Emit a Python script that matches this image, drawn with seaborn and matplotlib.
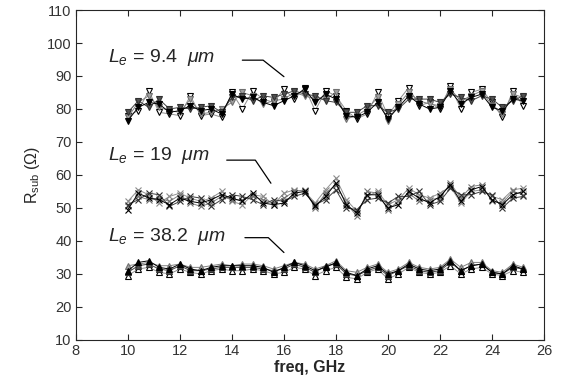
import numpy as np
import pandas as pd
import seaborn as sns
import matplotlib
matplotlib.use("Agg")
import matplotlib.pyplot as plt

# frequency points, GHz
freq = [10.0, 10.4, 10.8, 11.2, 11.6, 12.0, 12.4, 12.8, 13.2, 13.6,
        14.0, 14.4, 14.8, 15.2, 15.6, 16.0, 16.4, 16.8, 17.2, 17.6,
        18.0, 18.4, 18.8, 19.2, 19.6, 20.0, 20.4, 20.8, 21.2, 21.6,
        22.0, 22.4, 22.8, 23.2, 23.6, 24.0, 24.4, 24.8, 25.2]

# Le = 9.4 um
r94_black = [76.5, 80.5, 82.0, 81.5, 79.0, 79.5, 81.0, 79.5, 80.0, 78.5,
             84.5, 83.0, 83.5, 82.0, 81.0, 82.5, 84.0, 86.0, 82.0, 84.5,
             83.0, 78.0, 77.5, 79.0, 82.0, 77.0, 80.5, 84.0, 81.5, 80.0,
             80.5, 85.5, 81.5, 83.5, 84.5, 80.5, 79.5, 83.0, 82.5]
r94_dark = [79.0, 82.5, 80.5, 83.0, 80.0, 80.5, 80.0, 80.5, 81.0, 79.0,
            83.5, 84.0, 82.5, 84.0, 83.5, 84.5, 85.5, 84.5, 84.0, 82.5,
            82.0, 79.0, 79.0, 81.0, 81.0, 79.0, 80.0, 83.0, 83.0, 83.0,
            82.0, 84.5, 83.5, 82.5, 84.0, 83.0, 80.5, 82.5, 84.0]
r94_gray = [77.5, 82.0, 84.0, 80.5, 79.5, 79.0, 83.0, 78.5, 79.0, 80.0,
            82.0, 85.0, 84.0, 81.5, 82.5, 83.0, 85.0, 84.0, 83.0, 83.0,
            85.0, 77.0, 78.0, 80.0, 83.5, 76.5, 81.5, 85.0, 82.5, 81.5,
            81.0, 86.0, 82.5, 84.0, 85.5, 81.0, 78.5, 84.5, 83.5]
r94_white = [78.0, 79.5, 85.5, 79.0, 78.5, 78.0, 84.0, 78.0, 78.5, 77.5,
             85.0, 80.0, 85.5, 83.0, 82.0, 86.0, 83.0, 86.5, 79.5, 85.5,
             84.0, 79.5, 77.0, 78.5, 85.0, 78.0, 82.5, 86.5, 81.0, 82.0,
             80.0, 87.0, 80.0, 85.0, 86.0, 82.0, 77.5, 85.5, 81.0]

# Le = 19 um
r19_black = [49.5, 54.5, 53.0, 52.5, 51.0, 53.0, 52.0, 51.5, 52.5, 54.0,
             53.0, 52.0, 54.5, 51.5, 51.0, 51.5, 54.5, 55.0, 50.5, 53.5,
             57.5, 51.0, 48.5, 54.0, 54.0, 50.0, 51.0, 55.0, 53.0, 51.5,
             53.5, 57.0, 52.0, 55.5, 56.5, 52.5, 51.0, 54.0, 55.0]
r19_dark = [51.0, 52.5, 54.5, 54.0, 50.5, 52.0, 53.5, 53.0, 50.5, 52.5,
            54.0, 53.5, 52.5, 51.0, 52.5, 52.0, 53.5, 54.5, 51.0, 52.5,
            55.5, 50.0, 49.5, 52.5, 53.0, 51.5, 53.5, 53.5, 55.0, 51.0,
            52.0, 56.0, 54.0, 54.0, 55.0, 54.0, 50.0, 53.0, 53.5]
r19_gray = [50.5, 53.5, 52.5, 53.0, 52.0, 54.0, 51.5, 50.5, 51.5, 53.5,
            52.5, 52.5, 53.5, 52.5, 51.5, 53.0, 55.0, 55.5, 50.0, 54.5,
            57.0, 51.5, 47.5, 55.0, 54.5, 49.5, 52.0, 54.5, 52.0, 52.5,
            53.0, 57.5, 53.0, 56.5, 57.0, 52.0, 51.5, 55.0, 54.0]
r19_white = [52.0, 55.5, 54.0, 51.5, 53.5, 54.5, 53.0, 52.0, 53.0, 55.0,
             52.0, 51.0, 54.0, 53.5, 51.0, 54.5, 55.5, 55.0, 51.5, 55.5,
             59.0, 52.5, 49.0, 53.5, 55.0, 51.0, 52.5, 56.0, 54.0, 53.0,
             54.5, 56.5, 51.5, 55.0, 55.5, 53.5, 52.5, 55.5, 56.0]

# Le = 38.2 um
r38_black = [31.0, 33.5, 34.0, 32.0, 31.5, 33.0, 31.5, 31.0, 32.0, 32.5,
             32.5, 32.5, 32.5, 32.0, 30.5, 32.0, 33.5, 32.5, 31.0, 32.0,
             33.5, 30.5, 29.5, 31.5, 32.5, 30.0, 31.0, 33.0, 31.5, 31.0,
             31.5, 34.0, 31.0, 32.5, 33.0, 30.5, 30.0, 32.5, 31.5]
r38_dark = [30.5, 32.5, 33.0, 31.5, 31.0, 32.5, 31.0, 31.0, 31.5, 32.0,
            32.0, 32.0, 32.0, 31.5, 31.0, 31.5, 33.0, 32.0, 30.5, 32.5,
            33.0, 30.0, 29.5, 31.0, 32.0, 29.5, 31.0, 32.5, 31.0, 30.5,
            31.0, 33.5, 31.0, 32.5, 33.0, 30.5, 30.0, 32.0, 31.5]
r38_gray = [32.5, 33.0, 33.5, 32.5, 32.5, 33.0, 32.0, 32.0, 32.5, 33.0,
            32.5, 33.0, 33.0, 32.5, 31.5, 32.5, 33.5, 33.0, 31.5, 32.5,
            34.0, 31.0, 30.5, 32.0, 33.0, 30.5, 31.5, 33.5, 32.0, 31.5,
            32.0, 34.5, 32.0, 33.5, 33.5, 31.0, 30.5, 33.0, 32.0]
r38_white = [29.5, 31.5, 32.0, 30.5, 30.0, 31.5, 30.5, 30.0, 31.0, 31.5,
             31.0, 31.0, 31.5, 31.0, 30.0, 30.5, 32.0, 31.5, 29.5, 31.0,
             32.0, 29.0, 28.5, 30.5, 31.5, 28.5, 30.0, 32.0, 30.5, 30.0,
             30.5, 32.5, 30.0, 31.5, 32.0, 30.0, 29.5, 31.0, 30.5]

groups = ["9.4", "19", "38.2"]
markers = {"9.4": "v", "19": "x", "38.2": "^"}
series = {
    "9.4": [r94_black, r94_dark, r94_gray, r94_white],
    "19": [r19_black, r19_dark, r19_gray, r19_white],
    "38.2": [r38_black, r38_dark, r38_gray, r38_white],
}
# (line color, marker edge, marker face) for the traces of each group
styles = [("black", "black", "black"),
          ("#404040", "#303030", "#505050"),
          ("#808080", "#707070", "#a0a0a0"),
          ("#909090", "black", "white")]

rows = []
for g in groups:
    for k, vals in enumerate(series[g]):
        for f, v in zip(freq, vals):
            rows.append({"freq": f, "R": v, "group": g, "trace": k})
df = pd.DataFrame(rows)

sns.set_style("ticks")
plt.rcParams["font.family"] = ["Liberation Sans", "DejaVu Sans"]
plt.rcParams["mathtext.fontset"] = "custom"
plt.rcParams["mathtext.rm"] = "Liberation Sans"
plt.rcParams["mathtext.it"] = "Liberation Sans:italic"
plt.rcParams["mathtext.bf"] = "Liberation Sans:bold"

fig, ax = plt.subplots(figsize=(5.62, 3.85), dpi=100)
fig.subplots_adjust(left=0.135, right=0.968, bottom=0.117, top=0.974)

# draw light traces first, dark on top
for k in [3, 2, 1, 0]:
    lc, me, mf = styles[k]
    for g in groups:
        sub = df[(df.group == g) & (df.trace == k)]
        m = markers[g]
        kw = dict(markeredgecolor=me, markerfacecolor=mf)
        if m == "x":
            kw = dict(markeredgecolor=me if k != 3 else "#8a8a8a")
        sns.lineplot(data=sub, x="freq", y="R", ax=ax, color=lc, lw=0.7,
                     marker=m, markersize=4.5, markeredgewidth=0.8,
                     estimator=None, sort=False, legend=False, **kw)

ax.set_xlim(8, 26)
ax.set_ylim(10, 110)
ax.set_xticks(np.arange(8, 27, 2))
ax.set_yticks(np.arange(10, 111, 10))
ax.tick_params(direction="in", top=True, right=True, length=4, width=0.8,
               labelsize=10.5, labelcolor="#333333", pad=3)
for s in ax.spines.values():
    s.set_linewidth(0.8)
    s.set_visible(True)

ax.set_xlabel("freq, GHz", fontsize=11.5, fontweight="bold", labelpad=1)
ax.set_ylabel(r"R$_{\mathregular{sub}}$ ($\Omega$)", fontsize=11.5, labelpad=4)

# annotations with leader lines
labels = [(r"$L_e$ = 9.4  $\mu m$", 9.25, 95.7, [14.4, 15.2, 16.0], [94.8, 94.8, 89.8]),
          (r"$L_e$ = 19  $\mu m$", 9.25, 66.0, [13.8, 14.9, 15.5], [64.5, 64.5, 57.5]),
          (r"$L_e$ = 38.2  $\mu m$", 9.25, 41.3, [14.5, 15.4, 16.0], [41.0, 41.0, 36.5])]
for txt, tx, ty, lx, ly in labels:
    ax.text(tx, ty, txt, fontsize=14, va="center", ha="left",
            bbox=dict(facecolor="white", edgecolor="none", pad=1))
    ax.plot(lx, ly, color="black", lw=0.9)

fig.savefig("out.png", dpi=100)
